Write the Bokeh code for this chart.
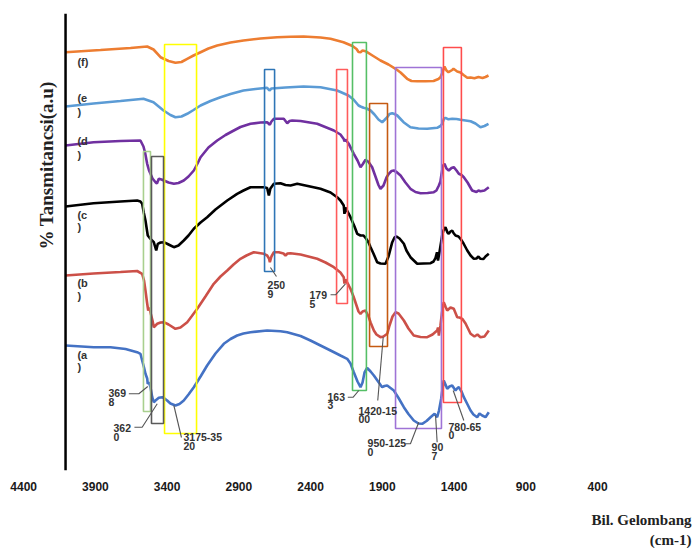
import math
from bokeh.plotting import figure
from bokeh.models import Range1d, FixedTicker, Span, Label, Title
from bokeh.core.properties import value
from bokeh.embed import file_html
from bokeh.resources import INLINE

# ---------------- data ----------------
x_ticks = [4400, 3900, 3400, 2900, 2400, 1900, 1400, 900, 400]

# (f) orange
wn_f = [4108, 3864, 3655, 3539, 3495, 3446, 3390, 3342, 3300, 3260, 3216, 3167, 3112, 3051, 2958, 2868, 2749, 2633,
        2540, 2449, 2331, 2261, 2171, 2108, 2080, 2066, 2052, 2038, 2017, 1969, 1913, 1857, 1808, 1773, 1727, 1697,
        1657, 1599, 1543, 1509, 1495, 1481, 1467, 1453, 1439, 1413, 1404, 1378, 1355, 1334, 1308, 1285, 1258, 1230,
        1202, 1181, 1160]
t_f = [418.3, 420.5, 422.5, 424, 421, 413.3, 409.5, 407.7, 408.5, 411.7, 415, 418.3, 422, 425, 428, 430, 432, 433.3,
       433.8, 434, 433, 431.7, 428.3, 424.5, 421.5, 418.5, 418.3, 420, 419.3, 415, 410, 406, 401.7, 398, 391.7, 389.5,
       389.3, 389.2, 389.5, 391.5, 393.3, 398, 404, 400, 398.3, 400.5, 401.7, 399, 398, 395.5, 392.7, 393, 392.2,
       393.4, 392.5, 393.5, 395]

# (e) light blue
wn_e = [4108, 3913, 3725, 3565, 3495, 3425, 3377, 3342, 3300, 3260, 3216, 3167, 3098, 3028, 2958, 2868, 2784, 2703,
        2687, 2673, 2575, 2449, 2331, 2215, 2136, 2101, 2066, 2052, 2031, 2010, 1982, 1955, 1927, 1901, 1885, 1866,
        1850, 1831, 1815, 1796, 1773, 1752, 1704, 1648, 1587, 1518, 1495, 1483, 1470, 1460, 1439, 1413, 1383, 1355,
        1320, 1285, 1251, 1216, 1188, 1160]
t_e = [364, 367, 369.5, 371.7, 368.3, 360, 355.5, 353.3, 354, 356.7, 360.5, 365, 369.5, 373.3, 376.5, 380, 381.5,
       382.7, 380, 382, 383, 384, 383.3, 380, 375, 371, 365, 364, 362.7, 362, 360, 356, 351, 348.3, 350.5, 353.3,
       356.5, 357.3, 356.5, 355, 351.5, 348.3, 343.3, 342, 341.7, 342.7, 344.5, 346.7, 352, 352.7, 351.2, 351.7,
       351.5, 350.7, 350, 349.3, 347, 343.3, 344.5, 346.7]

# (d) purple
wn_d = [4108, 3913, 3725, 3586, 3565, 3554, 3539, 3526, 3516, 3502, 3481, 3471, 3458, 3439, 3423, 3390, 3353, 3321,
        3284, 3251, 3214, 3188, 3167, 3112, 3051, 2993, 2935, 2889, 2819, 2749, 2703, 2684, 2673, 2656, 2587, 2563,
        2547, 2528, 2470, 2354, 2238, 2192, 2169, 2164, 2157, 2134, 2099, 2073, 2052, 2038, 2017, 1996, 1971, 1948,
        1927, 1913, 1892, 1871, 1855, 1836, 1820, 1801, 1773, 1739, 1704, 1669, 1634, 1585, 1541, 1523, 1506, 1495,
        1488, 1477, 1467, 1453, 1437, 1418, 1402, 1383, 1367, 1348, 1332, 1306, 1274, 1244, 1230, 1216, 1188, 1158]
t_d = [325, 328.3, 329.5, 330, 324, 318, 306.7, 300, 296.7, 292, 288.3, 287, 291.7, 291, 290, 288, 286.7, 287.5,
       290, 294, 300, 307, 313.3, 323, 330, 335.5, 340, 343.5, 346.7, 348, 348.3, 345.7, 349, 351.7, 351.7, 347.3,
       349.5, 350, 349.5, 346.7, 340, 336, 331.5, 329, 331, 326.7, 316.7, 310, 303.3, 306, 310.7, 308.5, 303.3, 294,
       285.5, 281.7, 285, 293, 296.7, 299.5, 300, 298.5, 295, 288, 281.7, 278.5, 277.3, 277.5, 278.3, 280, 285, 289,
       296, 305, 306.7, 302, 300, 302.5, 303.3, 300, 296.7, 295.5, 293.3, 288, 280, 278.5, 280, 279.3, 280, 283.3]

# (c) black
wn_c = [4108, 3913, 3725, 3609, 3586, 3574, 3563, 3551, 3535, 3516, 3493, 3476, 3465, 3446, 3423, 3390, 3353, 3321,
        3284, 3251, 3214, 3167, 3121, 3063, 2981, 2912, 2868, 2819, 2726, 2703, 2691, 2680, 2656, 2610, 2575, 2540,
        2493, 2436, 2331, 2261, 2215, 2192, 2169, 2164, 2157, 2122, 2094, 2075, 2052, 2031, 2017, 1996, 1982, 1962,
        1936, 1913, 1878, 1857, 1831, 1815, 1801, 1780, 1750, 1732, 1704, 1657, 1613, 1564, 1543, 1529, 1519, 1512,
        1502, 1483, 1474, 1460, 1446, 1437, 1425, 1413, 1404, 1390, 1369, 1355, 1334, 1308, 1285, 1262, 1244, 1230,
        1216, 1195, 1181, 1158]
t_c = [264, 267.3, 269, 270, 269, 266.7, 258, 250, 235, 231.7, 228.3, 220, 226.7, 228, 228.3, 226, 223.3, 225, 230,
       235, 241.7, 248, 253.3, 261, 270, 276.7, 280, 283.3, 283.3, 282.5, 275, 282, 286.7, 287.3, 285.5, 285, 286.7,
       285, 281.7, 278, 273.3, 270, 265, 256.7, 263, 253.3, 244, 236.7, 235, 235, 232.7, 228, 223.3, 217, 208.3, 207,
       206.7, 214, 228.3, 233, 234, 232, 226.7, 220, 213.3, 206.7, 207, 207.3, 209, 212.7, 218.3, 210, 218, 235, 240,
       243.3, 238, 236.7, 239, 240, 237.5, 235, 234, 231.7, 227, 220, 215, 211.7, 212, 214, 211.7, 211.5, 214, 216.7]

# (b) red
wn_b = [4108, 3913, 3725, 3609, 3574, 3561, 3551, 3540, 3532, 3523, 3516, 3502, 3493, 3481, 3469, 3446, 3423, 3390,
        3342, 3307, 3260, 3230, 3190, 3133, 3075, 3028, 2981, 2937, 2889, 2847, 2796, 2726, 2703, 2690, 2684, 2673,
        2656, 2622, 2589, 2575, 2561, 2540, 2470, 2354, 2296, 2238, 2192, 2169, 2164, 2157, 2134, 2122, 2101, 2080,
        2066, 2052, 2038, 2017, 1996, 1982, 1959, 1941, 1913, 1892, 1866, 1850, 1829, 1808, 1787, 1750, 1718, 1681,
        1634, 1587, 1550, 1518, 1512, 1506, 1495, 1484, 1472, 1460, 1448, 1425, 1402, 1378, 1362, 1343, 1320, 1285,
        1258, 1237, 1216, 1188, 1158]
t_b = [195, 197, 198.5, 199.5, 196.7, 190, 180, 168, 160, 163, 158, 150, 143.3, 145, 146.7, 148, 148.3, 146, 141.7,
       143, 148.3, 154, 161.7, 174, 186.7, 194, 200, 206, 211.7, 215, 218.3, 216.7, 215, 212, 208.3, 214, 218.3,
       218.3, 217, 215, 217, 217.3, 216, 211.7, 208, 203.3, 198, 193.3, 187, 191, 185, 181.7, 174, 165, 159, 156.7,
       159, 160, 154, 148, 140, 136, 133.3, 134, 136.7, 145, 154, 158.3, 157, 150, 142, 135, 133.5, 133.3, 136, 140,
       143, 135, 145, 158, 168.3, 164, 160, 163, 161.7, 153.3, 153, 151.7, 147, 136.7, 134, 136, 133.3, 134, 140]

# (a) blue
wn_a = [4108, 3911, 3795, 3690, 3609, 3586, 3574, 3561, 3551, 3539, 3535, 3526, 3516, 3504, 3493, 3481, 3458, 3434,
        3418, 3400, 3377, 3342, 3314, 3284, 3251, 3214, 3167, 3121, 3063, 3005, 2958, 2912, 2868, 2819, 2703, 2610,
        2563, 2470, 2401, 2331, 2261, 2192, 2145, 2122, 2099, 2073, 2052, 2038, 2024, 2006, 1982, 1959, 1927, 1901,
        1885, 1866, 1843, 1820, 1787, 1750, 1718, 1681, 1648, 1622, 1592, 1564, 1536, 1518, 1505, 1490, 1472, 1460,
        1448, 1432, 1413, 1390, 1376, 1367, 1348, 1332, 1306, 1285, 1265, 1239, 1223, 1204, 1181, 1158]
t_a = [125, 123.3, 123.3, 121.5, 118.3, 116.7, 110, 103, 96.7, 92, 86.7, 88, 83.3, 73.3, 68.3, 70, 72.7, 73.3, 72,
       70, 67, 65, 66.5, 70, 76, 83.3, 94, 105, 117, 126.7, 131.5, 135, 137, 138.3, 140, 139.3, 138.3, 134.5, 130,
       125, 120, 115, 111.7, 107, 98.3, 89, 83.3, 88, 98, 102.7, 99, 95, 88.5, 83.3, 84.5, 85, 82.5, 80, 72.5, 63.3,
       56.5, 50, 47, 46.7, 49.5, 53.3, 56.7, 53.3, 60, 71.7, 90, 86, 81.7, 84, 85, 80, 82.5, 83.3, 79, 73.3, 66, 60,
       56, 53.3, 57, 55, 53.3, 58.3]

# highlighted bands (wavenumber from/to, transmittance bottom/top)
band_hi = [3418, 3565, 3509, 2721, 2219, 2108, 1989, 1808, 1474]
band_lo = [3195, 3516, 3425, 2651, 2143, 2011, 1864, 1488, 1349]
band_bottom = [37, 59, 47, 199, 167, 80, 124, 42, 68]
band_top = [426, 319, 314, 401, 401, 428, 367, 403, 423]

# peak annotations: two text lines each + leader line
peak_line1 = ["369", "362", "3175-35", "250", "179", "163", "1420-15", "950-125", "90", "780-65"]
peak_line2 = ["8", "0", "20", "9", "5", "3", "00", "0", "7", "0"]
peak_wn = [3809, 3774, 3286, 2700, 2408, 2282, 2066, 2003, 1557, 1439]
peak_t1 = [78, 43, 34, 186, 176, 74, 60, 28, 24, 44]
peak_t2 = [69, 34, 25, 177, 167, 66, 52, 19, 15, 36]
leader_wn = [[3667, 3597, 3535], [3628, 3574, 3469], [3300, 3353], [2638, 2680], [2261, 2226, 2157],
             [2141, 2103, 2064], [1932, 1894], [1739, 1704, 1646], [1518, 1529], [1332, 1406]]
leader_t = [[76.7, 76.7, 84], [43.3, 43.3, 66.7], [33, 65], [194, 203], [175.7, 175.7, 186.7],
            [73.3, 73.3, 80], [70, 133.3], [26.7, 26.7, 48.3], [28.3, 55], [50, 80]]

# series labels
series_text = ["(f)", "(e", ")", "(d", ")", "(c", ")", "(b", ")", "(a", ")"]
series_t = [409, 373, 359, 330, 316, 256, 244, 188, 175, 116, 104]
series_wn = 4025

# ---------------- figure ----------------
p = figure(frame_width=697, frame_height=457, output_backend="svg", toolbar_location=None,
           x_range=Range1d(4561.4, -296.7), y_range=Range1d(0, 457),
           y_axis_type=None, min_border_left=0, min_border_right=0,
           min_border_top=13, min_border_bottom=78)
p.outline_line_color = None
p.xgrid.visible = False
p.ygrid.visible = False
p.background_fill_color = "white"
p.border_fill_color = "white"

ax = p.xaxis[0]
ax.ticker = FixedTicker(ticks=x_ticks)
ax.axis_line_color = None
ax.major_tick_line_color = None
ax.minor_tick_line_color = None
ax.major_tick_in = 0
ax.major_tick_out = 0
ax.major_label_standoff = 11
ax.major_label_text_font = "Liberation Sans"
ax.major_label_text_font_style = "bold"
ax.major_label_text_font_size = "12px"
ax.major_label_text_color = "#1a1a1a"
# invisible spacer between tick labels and the axis title below
ax.axis_label = " "
ax.axis_label_text_font_size = "1px"
ax.axis_label_standoff = 10

# x-axis title, two right-aligned lines
for txt, so in (("Bil. Gelombang", 4), ("(cm-1)", 0)):
    p.add_layout(Title(text=txt, align="right", offset=6, standoff=so,
                       text_font="Liberation Serif", text_font_style="bold",
                       text_font_size="15px", text_color="#222222"), "below")

# vertical axis line
p.add_layout(Span(location=4108, dimension="height", line_color="black", line_width=2.5))

lw = 2.6
p.line(wn_f, t_f, line_color="#ED7D31", line_width=lw)
p.line(wn_e, t_e, line_color="#5B9BD5", line_width=lw)
p.line(wn_d, t_d, line_color="#7030A0", line_width=lw)
p.line(wn_c, t_c, line_color="#000000", line_width=lw)
p.line(wn_b, t_b, line_color="#CC5048", line_width=lw)
p.line(wn_a, t_a, line_color="#4472C4", line_width=lw)

band_colors = ["#FFFF00", "#A9D08E", "#5A5A5A", "#2E75B6", "#FF5B5B", "#55BF66", "#C55A11", "#9F73D6", "#FF4C4C"]
p.quad(left=band_hi, right=band_lo, bottom=band_bottom, top=band_top,
       fill_color=None, line_color=band_colors, line_width=1.6)

p.multi_line(leader_wn, leader_t, line_color="#555555", line_width=1.1)

tf = value("Liberation Sans")
p.text(x=peak_wn, y=peak_t1, text=peak_line1, text_font=tf, text_font_style="bold",
       text_font_size="10.5px", text_color="#333333", text_baseline="middle", text_align="left")
p.text(x=peak_wn, y=peak_t2, text=peak_line2, text_font=tf, text_font_style="bold",
       text_font_size="10.5px", text_color="#333333", text_baseline="middle", text_align="left")

p.text(x=[series_wn] * len(series_text), y=series_t, text=series_text, text_font=tf,
       text_font_style="bold", text_font_size="11px", text_color="#333333",
       text_baseline="middle", text_align="left")

p.add_layout(Label(x=4241, y=305, text="% Tansmitancsi(a.u)", angle=math.pi / 2,
                   text_font="Liberation Serif", text_font_style="bold", text_font_size="19px",
                   text_color="#222222", text_align="center", text_baseline="middle"))

open("out.html", "w").write(file_html(p, INLINE))
